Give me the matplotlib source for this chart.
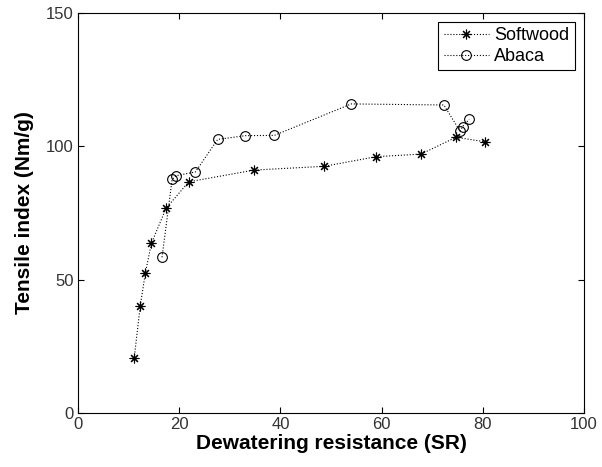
import matplotlib
matplotlib.use('Agg')
import matplotlib.pyplot as plt

plt.rcParams['font.family'] = ['Liberation Sans', 'DejaVu Sans']

softwood_x = [11.1, 12.3, 13.3, 14.5, 17.4, 21.9, 34.8, 48.6, 58.9, 67.8, 74.7, 80.4]
softwood_y = [20.5, 40.2, 52.4, 63.6, 76.8, 86.7, 91.1, 92.5, 96.1, 97.1, 103.4, 101.7]

abaca_x = [16.6, 18.6, 19.4, 23.2, 27.6, 33.1, 38.8, 54.0, 72.3, 75.5, 76.0, 77.3]
abaca_y = [58.4, 87.6, 89.0, 90.4, 102.6, 104.0, 104.1, 115.9, 115.5, 105.7, 107.4, 110.1]

fig = plt.figure(figsize=(6.02, 4.67), dpi=100)
ax = fig.add_axes([0.1296, 0.1156, 0.8405, 0.8566])

ax.plot(softwood_x, softwood_y, color='black', linestyle=':', linewidth=0.8,
        marker=(8, 2, 0), markersize=7, markerfacecolor='black', markeredgecolor='black',
        markeredgewidth=0.8, label='Softwood')
ax.plot(abaca_x, abaca_y, color='black', linestyle=':', linewidth=0.8,
        marker='o', markersize=7, markerfacecolor='none', markeredgecolor='black',
        markeredgewidth=0.8, label='Abaca')

ax.set_xlim(0, 100)
ax.set_ylim(0, 150)
ax.set_xticks([0, 20, 40, 60, 80, 100])
ax.set_yticks([0, 50, 100, 150])
for s in ax.spines.values():
    s.set_linewidth(0.8)
ax.tick_params(direction='in', top=True, right=True, labelsize=12, length=4, pad=3,
               labelcolor='#333333')
ax.set_xlabel('Dewatering resistance (SR)', fontsize=15, fontweight='bold', labelpad=1)
ax.set_ylabel('Tensile index (Nm/g)', fontsize=15, fontweight='bold', labelpad=9)

leg = ax.legend(loc='upper right', fontsize=13, fancybox=False, framealpha=1,
                edgecolor='black', handlelength=2.5, borderaxespad=0.5,
                handletextpad=0.3, borderpad=0.3, labelspacing=0.2)
leg.get_frame().set_linewidth(0.8)

fig.savefig('out.png', dpi=100)
